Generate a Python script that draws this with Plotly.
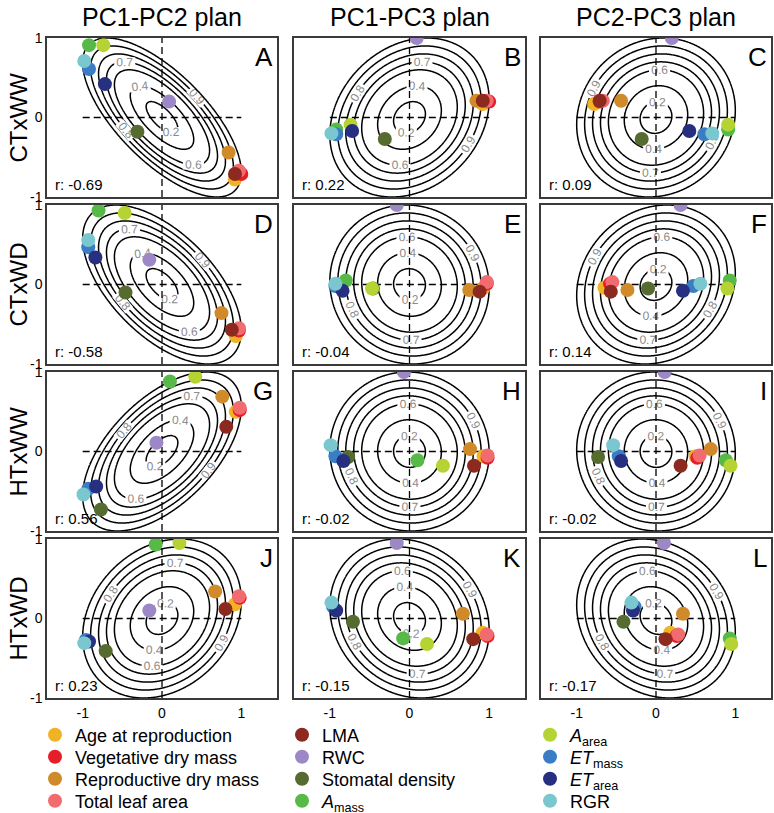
import numpy as np
import plotly.graph_objects as go

W, H = 774, 813

variables = ["Age at reproduction", "Vegetative dry mass", "Reproductive dry mass",
             "Total leaf area", "LMA", "RWC", "Stomatal density",
             "<i>A</i><sub>mass</sub>", "<i>A</i><sub>area</sub>",
             "<i>ET</i><sub>mass</sub>", "<i>ET</i><sub>area</sub>", "RGR"]
colors = ["#F0B323", "#E61E2A", "#D08A2A", "#F26B6F", "#8C2A1F", "#9C88C6",
          "#556B2F", "#57B947", "#B6D334", "#3A7DC4", "#262F80", "#7AC7CF"]

conditions = ["CTxWW", "CTxWD", "HTxWW", "HTxWD"]
plans = ["PC1-PC2 plan", "PC1-PC3 plan", "PC2-PC3 plan"]
letters = ["A", "B", "C", "D", "E", "F", "G", "H", "I", "J", "K", "L"]

# loadings per condition (order = variables)
ctww_pc1 = [0.92, 1.00, 0.84, 0.97, 0.92, 0.09, -0.31, -0.92, -0.74, -0.92, -0.72, -0.98]
ctww_pc2 = [-0.78, -0.71, -0.44, -0.67, -0.71, 0.20, -0.18, 0.91, 0.91, 0.61, 0.42, 0.71]
ctww_pc3 = [0.17, 0.20, 0.21, 0.21, 0.21, 1.00, -0.27, -0.15, -0.09, -0.21, -0.17, -0.20]

ctwd_pc1 = [0.93, 0.97, 0.75, 0.97, 0.88, -0.16, -0.46, -0.80, -0.47, -0.93, -0.84, -0.93]
ctwd_pc2 = [-0.65, -0.58, -0.36, -0.55, -0.57, 0.31, -0.10, 0.93, 0.90, 0.47, 0.34, 0.56]
ctwd_pc3 = [-0.04, 0.01, -0.07, 0.03, -0.09, 1.00, -0.05, 0.05, -0.05, -0.02, -0.08, 0.01]

htww_pc1 = [0.93, 0.98, 0.76, 0.98, 0.81, -0.07, -0.77, 0.10, 0.42, -0.93, -0.83, -0.99]
htww_pc2 = [0.50, 0.52, 0.69, 0.55, 0.31, 0.11, -0.73, 0.88, 0.94, -0.47, -0.44, -0.54]
htww_pc3 = [-0.06, -0.08, 0.03, -0.05, -0.18, 1.00, -0.07, -0.11, -0.18, -0.06, -0.12, 0.08]

htwd_pc1 = [0.92, 0.98, 0.67, 0.97, 0.80, -0.16, -0.71, -0.08, 0.22, -0.96, -0.92, -0.98]
htwd_pc2 = [0.18, 0.26, 0.34, 0.28, 0.12, 0.10, -0.41, 0.93, 0.95, -0.27, -0.29, -0.31]
htwd_pc3 = [-0.18, -0.22, 0.06, -0.20, -0.26, 0.95, -0.04, -0.25, -0.32, 0.15, 0.10, 0.20]

loadings = [
    (ctww_pc1, ctww_pc2, ctww_pc3),
    (ctwd_pc1, ctwd_pc2, ctwd_pc3),
    (htww_pc1, htww_pc2, htww_pc3),
    (htwd_pc1, htwd_pc2, htwd_pc3),
]
r_values = [[-0.69, 0.22, 0.09],
            [-0.58, -0.04, 0.14],
            [0.56, -0.02, -0.02],
            [0.23, -0.15, -0.17]]
plan_pcs = [(0, 1), (0, 2), (1, 2)]

FONT = "Liberation Sans, Arial, sans-serif"

# layout geometry (pixels)
col_px = [(47, 277), (294, 525), (541, 771)]
row_px = [(38, 197), (205, 364), (372, 531), (539, 698)]
legend_col_px = [35, 282, 530]
legend_row_px = [735, 757, 779, 801]
XR, YR = 1.45, 1.0


def px2x(p):
    return p / W


def px2y(p):
    return 1 - p / H


fig = go.Figure()
layout = {}
annotations = []

gx = np.linspace(-XR, XR, 291)
gy = np.linspace(-YR, YR, 201)
GX, GY = np.meshgrid(gx, gy)

legend_names = ["legend" if n == 0 else f"legend{n + 1}" for n in range(len(variables))]

for i in range(4):
    for j in range(3):
        k = i * 3 + j + 1
        xa = "x" if k == 1 else f"x{k}"
        ya = "y" if k == 1 else f"y{k}"
        r = r_values[i][j]
        Z = np.sqrt((GX ** 2 + GY ** 2 - 2 * r * GX * GY) / (1 - r ** 2))
        for (s, e, st, lab) in [(0.2, 0.4, 0.2, True), (0.6, 0.9, 0.1, True), (1.0, 1.0, 0.1, False)]:
            fig.add_trace(go.Contour(
                x=gx, y=gy, z=Z, xaxis=xa, yaxis=ya,
                autocontour=False,
                contours=dict(start=s, end=e + 1e-6, size=st, coloring="none",
                              showlabels=lab,
                              labelfont=dict(size=12, color="#8a8a8a", family=FONT),
                              labelformat=".1f"),
                line=dict(color="black", width=1.5),
                showscale=False, hoverinfo="skip", showlegend=False))
        # dashed cross
        fig.add_trace(go.Scatter(x=[-1, 1], y=[0, 0], mode="lines", xaxis=xa, yaxis=ya,
                                 line=dict(color="black", width=1.3, dash="7px,4px"),
                                 showlegend=False, hoverinfo="skip"))
        fig.add_trace(go.Scatter(x=[0, 0], y=[-1, 1], mode="lines", xaxis=xa, yaxis=ya,
                                 line=dict(color="black", width=1.3, dash="7px,4px"),
                                 showlegend=False, hoverinfo="skip"))
        a, b = plan_pcs[j]
        xs = loadings[i][a]
        ys = loadings[i][b]
        for v in range(len(variables)):
            fig.add_trace(go.Scatter(
                x=[xs[v]], y=[ys[v]], mode="markers", xaxis=xa, yaxis=ya,
                marker=dict(size=14, color=colors[v], line=dict(width=0)),
                name=variables[v], legendgroup=variables[v],
                legend=legend_names[v], showlegend=(k == 1)))

        x0, x1 = col_px[j]
        y0, y1 = row_px[i]
        axis_common = dict(showgrid=False, zeroline=False, showline=True, mirror=True,
                           linecolor="#3a3a3a", linewidth=1.5, ticks="",
                           tickvals=[-1, 0, 1], ticktext=["-1", "0", "1"],
                           tickfont=dict(size=14, color="black", family=FONT),
                           fixedrange=True, automargin=False)
        layout["xaxis" if k == 1 else f"xaxis{k}"] = dict(
            axis_common, domain=[px2x(x0), px2x(x1)], range=[-XR, XR],
            anchor=ya, showticklabels=(i == 3), ticklabelstandoff=1)
        layout["yaxis" if k == 1 else f"yaxis{k}"] = dict(
            axis_common, domain=[px2y(y1), px2y(y0)], range=[-YR, YR],
            anchor=xa, showticklabels=(j == 0))
        annotations.append(dict(text=letters[k - 1], xref="paper", yref="paper",
                                x=px2x(x1 - 2), y=px2y(y0 + 2), xanchor="right", yanchor="top",
                                showarrow=False,
                                font=dict(size=26, color="black", family=FONT)))
        annotations.append(dict(text=f"r: {r:.2f}", xref="paper", yref="paper",
                                x=px2x(x0 + 6), y=px2y(y1 - 2), xanchor="left", yanchor="bottom",
                                showarrow=False,
                                font=dict(size=15, color="black", family=FONT)))

for j, t in enumerate(plans):
    x0, x1 = col_px[j]
    annotations.append(dict(text=t, xref="paper", yref="paper", x=px2x((x0 + x1) / 2),
                            y=px2y(17), xanchor="center", yanchor="middle", showarrow=False,
                            font=dict(size=25, color="black", family=FONT)))
for i, t in enumerate(conditions):
    y0, y1 = row_px[i]
    annotations.append(dict(text=t, xref="paper", yref="paper", x=px2x(18),
                            y=px2y((y0 + y1) / 2), xanchor="center", yanchor="middle",
                            textangle=-90, showarrow=False,
                            font=dict(size=24, color="black", family=FONT)))

for v, ln in enumerate(legend_names):
    c, rr = divmod(v, 4)
    layout[ln] = dict(orientation="v", xanchor="left", yanchor="middle",
                      x=px2x(legend_col_px[c]), y=px2y(legend_row_px[rr]),
                      bgcolor="rgba(0,0,0,0)", borderwidth=0, tracegroupgap=0,
                      font=dict(size=18, color="black", family=FONT))

fig.update_layout(width=W, height=H,
                  margin=dict(l=0, r=0, t=0, b=0, autoexpand=False),
                  paper_bgcolor="white", plot_bgcolor="white",
                  annotations=annotations, **layout)
fig.write_html("out.html", config={"displayModeBar": False},
               post_script="document.body.style.margin='0';document.body.style.overflow='hidden';")
